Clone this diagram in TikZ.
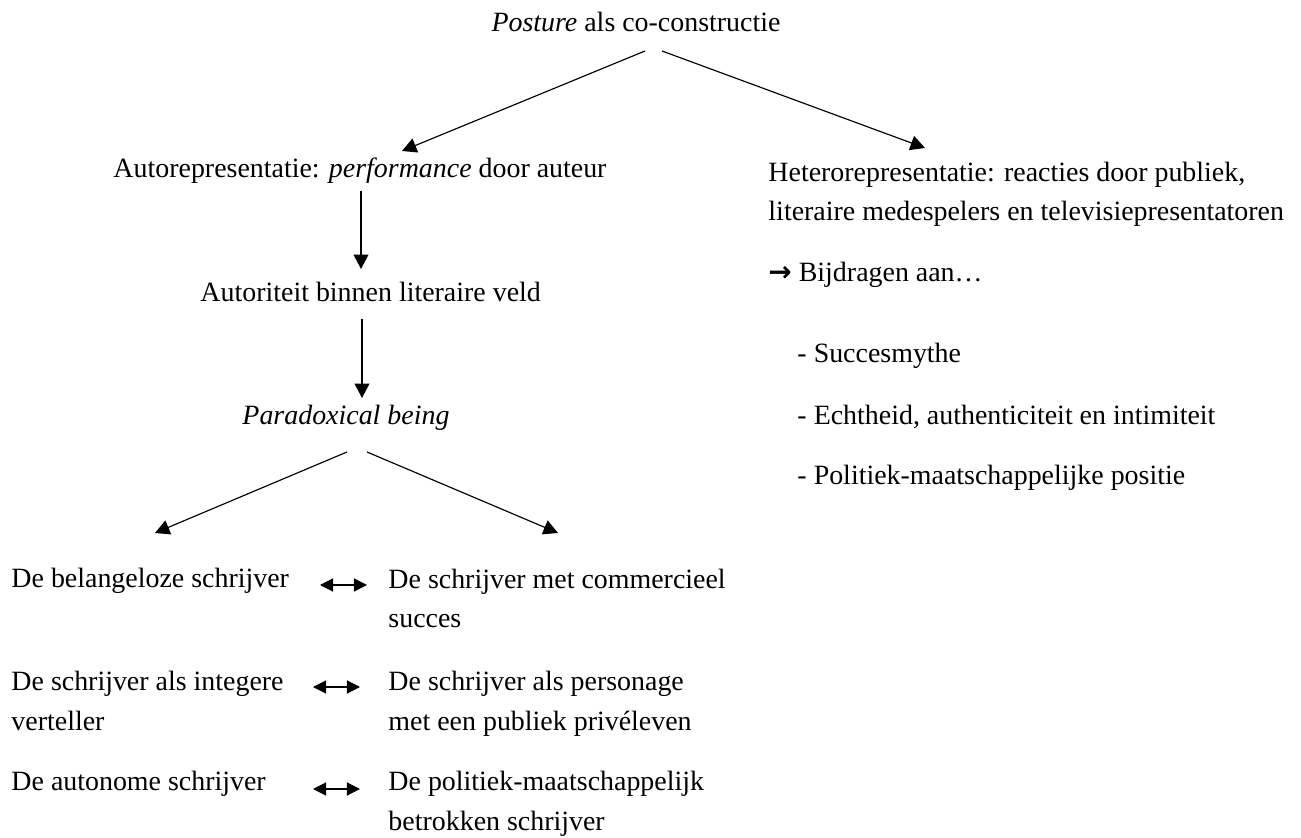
\documentclass[tikz,border=0pt]{standalone}
\usepackage{fontspec}
\setmainfont{Liberation Serif}
\newfontfamily\symfont{DejaVu Sans}
\usetikzlibrary{arrows.meta}

\begin{document}
\begin{tikzpicture}
            [x=0.0151cm, y=-0.0151cm,
            txt/.style={inner sep=0pt, font=\fontsize{12}{17.1}\selectfont},
            lft/.style={txt, anchor=base west, align=left},
            mid/.style={txt, anchor=base},
            arr/.style={line width=0.5pt, -{Triangle[length=6.2pt, width=6.4pt]}},
            dbl/.style={line width=0.5pt, {Triangle[length=5.6pt, width=5.6pt]}-{Triangle[length=5.6pt, width=5.6pt]}}]

            \useasboundingbox (0,0) rectangle (1301,838);

            % Left branch: auto-representation
            \node[mid] (posture) at (636,32) {\textit{Posture} als co-constructie};
            \node[lft] (auto) at (113,178) {Autorepresentatie: \textit{performance} door auteur};
            \node[lft] (autoriteit) at (200,302) {Autoriteit binnen literaire veld};
            \node[lft] (paradox) at (242,425) {\textit{Paradoxical being}};

            % Right branch: hetero-representation (base = last line)
            \node[lft] (hetero) at (768,221) {Heterorepresentatie: reacties door publiek,\\literaire medespelers en televisiepresentatoren};
            \node[lft] (bijdragen) at (768,282) {{\symfont\bfseries →} Bijdragen aan…};
            \node[lft] (mythe) at (797,363) {- Succesmythe};
            \node[lft] (echt) at (797,425) {- Echtheid, authenticiteit en intimiteit};
            \node[lft] (politiek) at (797,485) {- Politiek-maatschappelijke positie};

            % The paradoxes
            \node[lft] (l1) at (11,588) {De belangeloze schrijver};
            \node[lft] (r1) at (388,628) {De schrijver met commercieel\\succes};
            \node[lft] (l2) at (11,730) {De schrijver als integere\\verteller};
            \node[lft] (r2) at (388,730) {De schrijver als personage\\met een publiek privéleven};
            \node[lft] (l3) at (11,790) {De autonome schrijver};
            \node[lft] (r3) at (388,830) {De politiek-maatschappelijk\\betrokken schrijver};

            % Arrow ends
            \coordinate (post-l) at (645,51);
            \coordinate (post-r) at (662,51);
            \coordinate (auto-tip) at (402,151);
            \coordinate (hetero-tip) at (925,148);
            \coordinate (auto-s) at (361,191);
            \coordinate (autoriteit-n) at (361,269);
            \coordinate (autoriteit-s) at (362,319);
            \coordinate (paradox-n) at (362,398);
            \coordinate (paradox-l) at (347,452);
            \coordinate (paradox-r) at (367,452);
            \coordinate (l1-tip) at (155,533);
            \coordinate (r1-tip) at (558,533);

            \draw[arr] (post-l) -- (auto-tip);
            \draw[arr] (post-r) -- (hetero-tip);
            \draw[arr] (auto-s) -- (autoriteit-n);
            \draw[arr] (autoriteit-s) -- (paradox-n);
            \draw[arr] (paradox-l) -- (l1-tip);
            \draw[arr] (paradox-r) -- (r1-tip);

            % Double arrows between the paradoxes
            \draw[dbl] (320,585) -- (367,585);
            \draw[dbl] (313,687) -- (360,687);
            \draw[dbl] (313,789) -- (360,789);

        \end{tikzpicture}
\end{document}
